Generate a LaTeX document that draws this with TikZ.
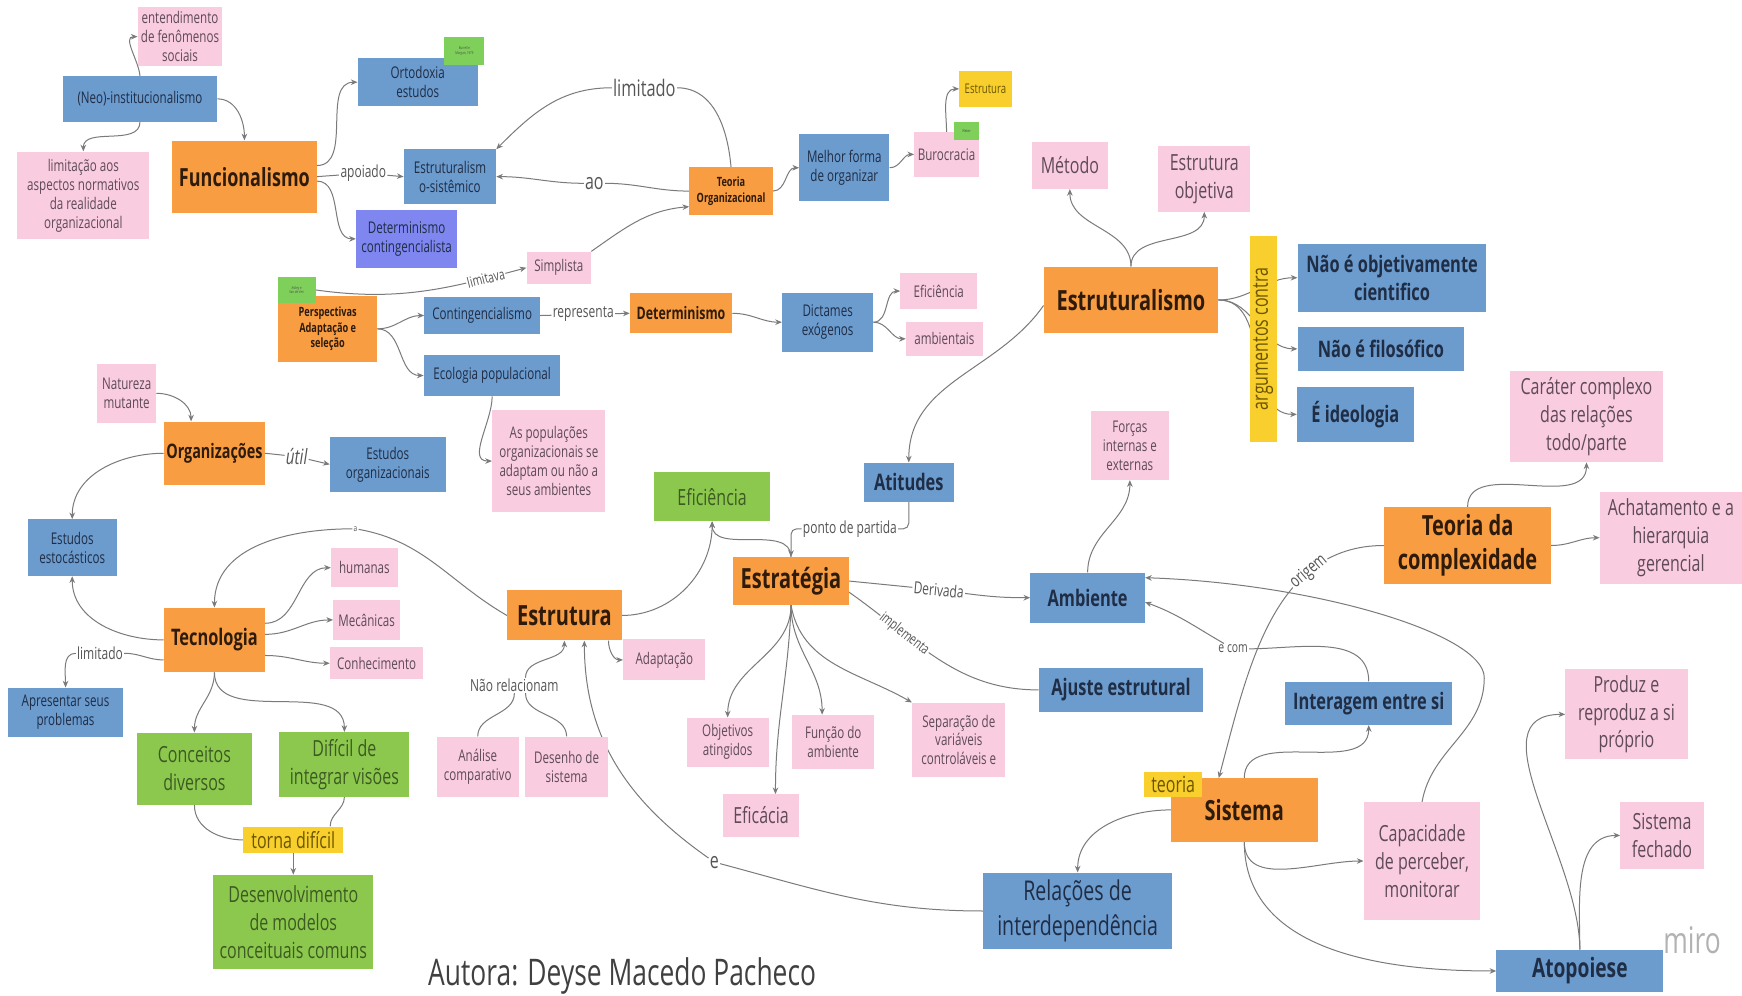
\documentclass[tikz,border=0pt]{standalone}
\usepackage{fontspec}
\setmainfont{Open Sans}[FakeStretch=0.72]
\usepackage{tikz}
\usetikzlibrary{arrows.meta,backgrounds}

\definecolor{orgfill}{HTML}{F99D42}
\definecolor{bluefill}{HTML}{6C9BCE}
\definecolor{pinkfill}{HTML}{F9CCE0}
\definecolor{grnfill}{HTML}{8DC84E}
\definecolor{yelfill}{HTML}{F8CF2C}
\definecolor{purfill}{HTML}{7F86F0}
\definecolor{tagfill}{HTML}{7FCF5B}
\definecolor{linecol}{HTML}{7A7A7A}
\definecolor{orgtext}{HTML}{2E1B0B}
\definecolor{bluetext}{HTML}{1F2D45}
\definecolor{grntext}{HTML}{3C5A22}
\definecolor{yeltext}{HTML}{6B5500}
\definecolor{pinktext}{HTML}{5E4A58}
\definecolor{labtext}{HTML}{555555}

\newcommand{\fbig}{\fontsize{25}{31}\selectfont\bfseries}
\newcommand{\fmed}{\fontsize{20.5}{25}\selectfont\bfseries}
\newcommand{\flg}{\fontsize{20}{25}\selectfont}
\newcommand{\fsm}{\fontsize{14.5}{17}\selectfont}
\newcommand{\fsmb}{\fontsize{11.5}{14}\selectfont\bfseries}
\newcommand{\fmidb}{\fontsize{15.5}{18}\selectfont\bfseries}
\newcommand{\ftiny}{\fontsize{3.5}{4.2}\selectfont}
\newcommand{\flab}{\fontsize{15}{18}\selectfont}

\begin{document}
\begin{tikzpicture}[x=1pt,y=1pt,
	nbox/.style={inner sep=1pt,align=center},
	orgbox/.style={nbox,fill=orgfill,text=orgtext},
	bluebox/.style={nbox,fill=bluefill,text=bluetext},
	pinkbox/.style={nbox,fill=pinkfill,text=pinktext},
	grnbox/.style={nbox,fill=grnfill,text=grntext},
	yelbox/.style={nbox,fill=yelfill,text=yeltext},
	tagbox/.style={nbox,fill=tagfill,text=black!70,font=\ftiny},
	lab/.style={fill=white,inner sep=1pt,text=labtext,font=\flab},
	con/.style={draw=linecol,line width=0.9pt},
	arr/.style={con,-{Stealth[length=6pt,width=5pt]}}]
	\begin{scope}[on background layer]
		\fill[white] (0,0) rectangle (1568,-896);
	\end{scope}
	\useasboundingbox (0,0) rectangle (1568,-896);

	\node[pinkbox,font=\fsm,minimum width=76,minimum height=53] (ent) at (162,-33) {entendimento\\de fenômenos\\sociais};
	\node[bluebox,font=\fsm,minimum width=139,minimum height=41] (neo) at (126,-89) {(Neo)-institucionalismo};
	\node[pinkbox,font=\fsm,minimum width=119,minimum height=79] (limasp) at (75,-176) {limitação aos\\aspectos normativos\\da realidade\\organizacional};
	\node[orgbox,font=\fontsize{22.5}{27}\selectfont\bfseries,minimum width=130,minimum height=65] (func) at (220,-159) {Funcionalismo};
	\node[bluebox,font=\fsm,minimum width=108,minimum height=43] (orto) at (376,-74) {Ortodoxia\\estudos};
	\node[tagbox,minimum width=36,minimum height=25] (tagbm) at (418,-46) {Burrell e\\Morgan, 1979};
	\node[bluebox,font=\fsm,minimum width=83,minimum height=49] (estsis) at (405,-159) {Estruturalism\\o-sistêmico};
	\node[nbox,fill=purfill,text=bluetext,font=\fsm,minimum width=91,minimum height=52] (detcon) at (366,-215) {Determinismo\\contingencialista};
	\node[pinkbox,font=\fsm,minimum width=58,minimum height=29] (simp) at (503,-241) {Simplista};
	\node[orgbox,font=\fsmb,minimum width=89,minimum height=59] (persp) at (295,-296) {Perspectivas\\Adaptação e\\seleção};
	\node[tagbox,minimum width=34,minimum height=23] (tagav) at (267,-261) {Astley e\\Van de Ven};
	\node[bluebox,font=\fsm,minimum width=104,minimum height=33] (cont) at (434,-284) {Contingencialismo};
	\node[bluebox,font=\fsm,minimum width=123,minimum height=37] (eco) at (443,-338) {Ecologia populacional};
	\node[pinkbox,font=\fsm,minimum width=102,minimum height=92] (popu) at (494,-415) {As populações\\organizacionais se\\adaptam ou não a\\seus ambientes};
	\node[pinkbox,font=\fsm,minimum width=53,minimum height=53] (nat) at (114,-354) {Natureza\\mutante};
	\node[orgbox,font=\fontsize{18}{22}\selectfont\bfseries,minimum width=91,minimum height=57] (org) at (193,-408) {Organizações};
	\node[bluebox,font=\fsm,minimum width=104,minimum height=49] (estorg) at (349,-418) {Estudos\\organizacionais};
	\node[bluebox,font=\fsm,minimum width=80,minimum height=51] (estoc) at (65,-493) {Estudos\\estocásticos};
	\node[pinkbox,font=\fsm,minimum width=60,minimum height=35] (hum) at (328,-511) {humanas};
	\node[pinkbox,font=\fsm,minimum width=60,minimum height=36] (mec) at (330,-558) {Mecânicas};
	\node[orgbox,font=\fmed,minimum width=91,minimum height=58] (tec) at (193,-576) {Tecnologia};
	\node[pinkbox,font=\fsm,minimum width=84,minimum height=29] (conh) at (339,-597) {Conhecimento};
	\node[bluebox,font=\fsm,minimum width=103,minimum height=44] (apres) at (59,-641) {Apresentar seus\\problemas};
	\node[grnbox,font=\flg,minimum width=104,minimum height=65] (conc) at (175,-692) {Conceitos\\diversos};
	\node[grnbox,font=\flg,minimum width=117,minimum height=58] (dific) at (310,-688) {Difícil de\\integrar visões};
	\node[yelbox,font=\flg,minimum width=90,minimum height=24] (torna) at (264,-756) {torna difícil};
	\node[grnbox,font=\flg,minimum width=144,minimum height=85] (desen) at (264,-830) {Desenvolvimento\\de modelos\\conceituais comuns};
	\node[text=black!75,font=\fontsize{33}{36}\selectfont,anchor=base] (autora) at (560,-887) {Autora: Deyse Macedo Pacheco};
	\node[orgbox,font=\fbig,minimum width=103,minimum height=45] (estr) at (508,-554) {Estrutura};
	\node[pinkbox,font=\fsm,minimum width=74,minimum height=37] (adap) at (598,-594) {Adaptação};
	\node[pinkbox,font=\fsm,minimum width=74,minimum height=54] (anal) at (430,-690) {Análise\\comparativo};
	\node[pinkbox,font=\fsm,minimum width=74,minimum height=54] (desh) at (510,-690) {Desenho de\\sistema};
	\node[grnbox,font=\flg,minimum width=104,minimum height=44] (efic) at (641,-447) {Eficiência};
	\node[orgbox,font=\fbig,minimum width=104,minimum height=43] (estrat) at (712,-523) {Estratégia};
	\node[bluebox,font=\fmed,minimum width=81,minimum height=35] (atit) at (818,-434) {Atitudes};
	\node[pinkbox,font=\fsm,minimum width=69,minimum height=32] (eficp) at (845,-262) {Eficiência};
	\node[pinkbox,font=\fsm,minimum width=69,minimum height=30] (ambt) at (850,-305) {ambientais};
	\node[bluebox,font=\fsm,minimum width=82,minimum height=53] (dict) at (745,-290) {Dictames\\exógenos};
	\node[orgbox,font=\fmidb,minimum width=92,minimum height=36] (det) at (613,-282) {Determinismo};
	\node[orgbox,font=\fsmb,minimum width=75,minimum height=43] (teo) at (658,-172) {Teoria\\Organizacional};
	\node[bluebox,font=\fsm,minimum width=81,minimum height=60] (melhor) at (760,-151) {Melhor forma\\de organizar};
	\node[pinkbox,font=\fsm,minimum width=58,minimum height=40] (buro) at (852,-139) {Burocracia};
	\node[tagbox,minimum width=23,minimum height=16] (tagw) at (870,-118) {Weber};
	\node[yelbox,font=\fontsize{12}{14}\selectfont,minimum width=47,minimum height=33] (estam) at (887,-80) {Estrutura};
	\node[pinkbox,font=\flg,minimum width=69,minimum height=42] (metodo) at (963,-149) {Método};
	\node[pinkbox,font=\flg,minimum width=83,minimum height=59] (estobj) at (1084,-161) {Estrutura\\objetiva};
	\node[orgbox,font=\fbig,minimum width=157,minimum height=60] (estrlis) at (1018,-270) {Estruturalismo};
	\node[yelbox,font=\flg,rotate=90,minimum width=185,minimum height=24] (argc) at (1137,-305) {argumentos contra};
	\node[bluebox,font=\fmed,minimum width=170,minimum height=61] (naoobj) at (1253,-250) {Não é objetivamente\\cientifico};
	\node[bluebox,font=\fmed,minimum width=150,minimum height=40] (naofil) at (1243,-314) {Não é filosófico};
	\node[bluebox,font=\fmed,minimum width=105,minimum height=50] (ideo) at (1220,-373) {É ideologia};
	\node[pinkbox,font=\flg,minimum width=138,minimum height=82] (carat) at (1428,-375) {Caráter complexo\\das relações\\todo/parte};
	\node[orgbox,font=\fbig,minimum width=150,minimum height=69] (tcomp) at (1321,-491) {Teoria da\\complexidade};
	\node[pinkbox,font=\flg,minimum width=128,minimum height=83] (achat) at (1504,-484) {Achatamento e a\\hierarquia\\gerencial};
	\node[pinkbox,font=\fsm,minimum width=70,minimum height=62] (forcas) at (1017,-401) {Forças\\internas e\\externas};
	\node[bluebox,font=\fmed,minimum width=103,minimum height=45] (amb) at (979,-538) {Ambiente};
	\node[bluebox,font=\fmed,minimum width=148,minimum height=40] (ajuste) at (1009,-621) {Ajuste estrutural};
	\node[bluebox,font=\fmed,minimum width=150,minimum height=39] (inter) at (1232,-633) {Interagem entre si};
	\node[orgbox,font=\fbig,minimum width=132,minimum height=57] (sist) at (1120,-729) {Sistema};
	\node[yelbox,font=\flg,minimum width=52,minimum height=22] (teoria) at (1056,-706) {teoria};
	\node[pinkbox,font=\flg,minimum width=105,minimum height=106] (capac) at (1280,-775) {Capacidade\\de perceber,\\monitorar};
	\node[bluebox,font=\fontsize{24.5}{31}\selectfont,minimum width=170,minimum height=69] (rel) at (970,-820) {Relações de\\interdependência};
	\node[pinkbox,font=\flg,minimum width=110,minimum height=81] (produz) at (1464,-643) {Produz e\\reproduz a si\\próprio};
	\node[pinkbox,font=\flg,minimum width=75,minimum height=61] (sfech) at (1496,-752) {Sistema\\fechado};
	\node[bluebox,font=\fontsize{24}{28}\selectfont\bfseries,minimum width=150,minimum height=38] (atop) at (1422,-874) {Atopoiese};
	\node[text=black!30,font=\fontsize{33}{36}\selectfont] (miro) at (1523,-846) {miro};
	\node[pinkbox,font=\flg,minimum width=68,minimum height=38] (eficac) at (685,-734) {Eficácia};
	\node[pinkbox,font=\fsm,minimum width=74,minimum height=44] (objet) at (655,-668) {Objetivos\\atingidos};
	\node[pinkbox,font=\fsm,minimum width=74,minimum height=49] (funcamb) at (750,-668) {Função do\\ambiente};
	\node[pinkbox,font=\fsm,minimum width=84,minimum height=67] (separ) at (863,-666) {Separação de\\variáveis\\controláveis e};

	\node[lab,font=\fontsize{20.5}{23}\selectfont] (limtd) at (580,-79) {limitado};
	\node[lab,font=\fontsize{20}{22}\selectfont] (ao) at (535,-165) {ao};
	\node[lab] (apoiado) at (327,-156) {apoiado};
	\node[lab] (repres) at (525,-283) {representa};
	\node[lab,font=\fontsize{19}{21}\selectfont\itshape] (util) at (267,-411) {útil};
	\node[lab,font=\fontsize{8}{9}\selectfont] (alab) at (320,-476) {a};
	\node[lab] (ppart) at (765,-476) {ponto de partida};
	\node[lab,rotate=-5] (deriv) at (845,-531) {Derivada};
	\node[lab,font=\fontsize{13}{15}\selectfont] (ecom) at (1110,-584) {e com};
	\node[lab] (naorel) at (463,-617) {Não relacionam};
	\node[lab] (limtd2) at (90,-588) {limitado};
	\node[lab,font=\fontsize{20}{22}\selectfont] (elab) at (643,-776) {e};
	\coordinate (capbend) at (1336,-610);

	\begin{scope}[on background layer]
		\draw[arr] (neo.north) to[out=95,in=180] (ent.west);
		\draw[arr] (neo.south) to[out=-90,in=90] (limasp.north);
		\draw[arr] (neo.east) to[out=0,in=90] (func.north);
		\draw[arr] ([yshift=10pt]func.east) to[out=0,in=180] (orto.west);
		\draw[con] (func.east) -- (apoiado);
		\draw[arr] (apoiado) -- (estsis.west);
		\draw[arr] ([yshift=-4pt]func.east) to[out=0,in=180] (detcon.west);
		\draw[con] (teo.north) to[out=95,in=0] (limtd);
		\draw[arr] (limtd) to[out=180,in=45] (estsis.north east);
		\draw[con] (teo.west) to[out=180,in=0] (ao);
		\draw[arr] (ao) to[out=180,in=0] (estsis.east);
		\draw[arr] (tagav.east) to[out=-8,in=195] node[lab,sloped,pos=0.82,font=\fontsize{13}{15}\selectfont] (limitava) {limitava} (simp.west);
		\draw[arr] (simp.north east) to[out=35,in=185] ([yshift=-14pt]teo.west);
		\draw[arr] (persp.east) to[out=0,in=180] (cont.west);
		\draw[arr] (persp.east) to[out=0,in=180] (eco.west);
		\draw[arr] (eco.south) to[out=-90,in=180] (popu.west);
		\draw[con] (cont.east) -- (repres);
		\draw[arr] (repres) -- (det.west);
		\draw[arr] (det.east) to[out=0,in=180] (dict.west);
		\draw[arr] (dict.east) to[out=0,in=180] (eficp.west);
		\draw[arr] (dict.east) to[out=0,in=180] (ambt.west);
		\draw[arr] (teo.east) to[out=0,in=180] (melhor.west);
		\draw[arr] (melhor.east) to[out=0,in=180] (buro.west);
		\draw[arr] (buro.north) to[out=90,in=180] (estam.west);
		\draw[arr] (estrlis.north) to[out=90,in=-90] (metodo.south);
		\draw[arr] (estrlis.north) to[out=90,in=-90] (estobj.south);
		\draw[arr] (estrlis.east) to[out=0,in=180] (naoobj.west);
		\draw[arr] (estrlis.east) to[out=0,in=180] (naofil.west);
		\draw[arr] (estrlis.east) to[out=0,in=180] (ideo.west);
		\draw[arr] ([yshift=-5pt]estrlis.west) to[out=235,in=90] (atit.north);
		\draw[con,rounded corners=5pt] (atit.south) |- (ppart.east);
		\draw[arr,rounded corners=5pt] (ppart.west) -| (estrat.north);
		\draw[arr] (estrat.north) to[out=90,in=-90] (efic.south);
		\draw[arr] (estr.east) to[out=0,in=-90] (efic.south);
		\draw[con] (estr.west) to[out=150,in=-10] (alab);
		\draw[arr] (alab) to[out=180,in=90] (tec.north);
		\draw[arr] ([yshift=15pt]tec.east) to[out=0,in=180] (hum.west);
		\draw[arr] ([yshift=5pt]tec.east) to[out=0,in=180] (mec.west);
		\draw[arr] ([yshift=-14pt]tec.east) to[out=0,in=180] (conh.west);
		\draw[arr] (tec.west) to[out=180,in=-90] (estoc.south);
		\draw[arr] (org.west) to[out=180,in=90] (estoc.north);
		\draw[arr] (nat.east) to[out=0,in=90] ([xshift=-21pt]org.north);
		\draw[con] (org.east) -- (util);
		\draw[arr] (util) -- (estorg.west);
		\draw[con] ([yshift=-18pt]tec.west) to[out=180,in=0] (limtd2);
		\draw[arr] (limtd2) to[out=180,in=90] (apres.north);
		\draw[arr] (tec.south) to[out=-90,in=90] (conc.north);
		\draw[arr] (tec.south) to[out=-90,in=90] (dific.north);
		\draw[con] (conc.south) to[out=-90,in=180] (torna.west);
		\draw[con] (dific.south) to[out=-90,in=90] ([xshift=-12pt]torna.north east);
		\draw[arr] (torna.south) -- (desen.north);
		\draw[arr] ([xshift=-12pt]estr.south east) to[out=-90,in=180] (adap.west);
		\draw[con] (anal.north) to[out=90,in=-90] (naorel.south);
		\draw[con] (desh.north) to[out=90,in=-90] ([xshift=10pt]naorel.south);
		\draw[arr] ([xshift=10pt]naorel.north) to[out=90,in=-90] (estr.south);
		\draw[con] (rel.west) to[out=180,in=-15] (elab);
		\draw[arr] (elab) to[out=145,in=-90] ([xshift=18pt]estr.south);
		\draw[arr] (estrat.south) to[out=-90,in=90] (objet.north);
		\draw[arr] (estrat.south) to[out=-92,in=90] ([xshift=13pt]eficac.north);
		\draw[arr] (estrat.south) to[out=-90,in=90] ([xshift=-10pt]funcamb.north);
		\draw[arr] (estrat.south) to[out=-80,in=150] (separ.north west);
		\draw[con] (estrat.east) -- (deriv);
		\draw[arr] (deriv) to[out=-5,in=180] (amb.west);
		\draw[con] ([yshift=-10pt]estrat.east) to[out=-35,in=180] node[lab,sloped,pos=0.3,font=\fontsize{13}{15}\selectfont] (implem) {implementa} (ajuste.west);
		\draw[arr] (amb.north) to[out=90,in=-90] (forcas.south);
		\draw[con] (inter.north) to[out=90,in=0] (ecom);
		\draw[arr] (ecom) to[out=150,in=-20] ([yshift=-4pt]amb.east);
		\draw[con] (capac.north) to[out=80,in=-90] (capbend);
		\draw[arr] (capbend) .. controls +(0,40) and +(150,-5) .. ([yshift=18pt]amb.east);
		\draw[arr] (tcomp.west) to[out=180,in=75] node[lab,sloped,pos=0.28,font=\fontsize{16}{18}\selectfont] (origem) {origem} ([xshift=-23pt]sist.north);
		\draw[arr] (tcomp.north) to[out=90,in=-90] (carat.south);
		\draw[arr] (tcomp.east) to[out=0,in=180] (achat.west);
		\draw[arr] (sist.north) to[out=90,in=-90] (inter.south);
		\draw[arr] (sist.south) to[out=-90,in=180] (capac.west);
		\draw[arr] (sist.south) to[out=-90,in=180] (atop.west);
		\draw[arr] (sist.west) to[out=180,in=90] (rel.north);
		\draw[arr] (atop.north) to[out=90,in=180] (produz.west);
		\draw[arr] (atop.north) to[out=90,in=180] (sfech.west);
	\end{scope}
\end{tikzpicture}
\end{document}
